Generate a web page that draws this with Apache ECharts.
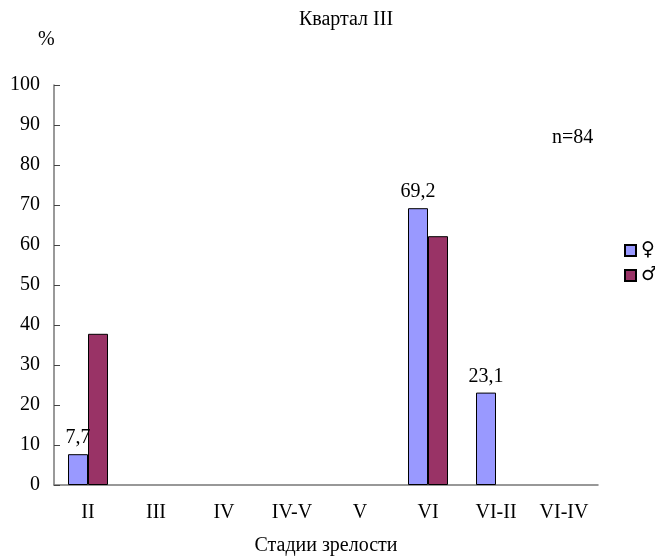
<!DOCTYPE html>
<html><head><meta charset="utf-8">
<script src="https://cdn.jsdelivr.net/npm/echarts@6/dist/echarts.min.js"></script>
<style>html,body{margin:0;padding:0;background:#fff}#c{width:655px;height:557px}</style>
</head><body><div id="c"></div>
<script>
var categories = ['II','III','IV','IV-V','V','VI','VI-II','VI-IV'];
var female = [7.7, null, null, null, null, 69.2, 23.1, null];
var male = [37.8, null, null, null, null, 62.2, null, null];
var yTicks = [0,10,20,30,40,50,60,70,80,90,100];
var F = 'Liberation Serif';
var chart = echarts.init(document.getElementById('c'));
chart.setOption({
  animation:false,
  textStyle:{fontFamily:F},
  title:{text:'Квартал III', left:341, top:5, textAlign:'center',
    textStyle:{fontFamily:F,fontSize:20,fontWeight:'normal',color:'#000'}},
  graphic:[
    {type:'text', left:38, top:30, style:{text:'%', font:'20px '+F, fill:'#000'}},
    {type:'text', left:552, top:128, style:{text:'n=84', font:'20px '+F, fill:'#000'}}
  ],
  legend:{orient:'vertical', left:619, top:236, itemWidth:11, itemHeight:11, itemGap:6,
    icon:'rect', textStyle:{fontFamily:'DejaVu Sans',fontSize:19,color:'#000'},
    data:['♀','♂']},
  grid:{left:54, right:57, top:85, bottom:72, outerBoundsMode:'none', containLabel:false},
  xAxis:{type:'category', data:categories, name:'Стадии зрелости', nameLocation:'middle', nameGap:51,
    nameTextStyle:{fontFamily:F,fontSize:20,color:'#000'},
    axisLine:{lineStyle:{color:'#777',width:1.5}},
    axisTick:{inside:true,length:6,lineStyle:{color:'#444'}},
    axisLabel:{fontFamily:F,fontSize:20,color:'#000',margin:18}},
  yAxis:{type:'value', min:0, max:100, interval:10,
    axisLine:{show:true,lineStyle:{color:'#777',width:1.5}},
    axisTick:{show:true,inside:true,length:6,lineStyle:{color:'#444'}},
    splitLine:{show:false},
    axisLabel:{fontFamily:F,fontSize:20,color:'#000',margin:14,
      formatter:function(v){return yTicks.indexOf(v)>=0?String(v):'';}}},
  series:[
    {name:'♀', type:'bar', data:female, barWidth:20, barGap:'0%',
      itemStyle:{color:'#9999FF',borderColor:'#000',borderWidth:1},
      label:{show:true, position:'top', distance:6, fontFamily:F, fontSize:20, color:'#000',
        formatter:function(p){return p.value==null?'':String(p.value).replace('.',',');}}},
    {name:'♂', type:'bar', data:male, barWidth:20, barGap:'0%',
      itemStyle:{color:'#993366',borderColor:'#000',borderWidth:1}}
  ]
});
</script></body></html>
